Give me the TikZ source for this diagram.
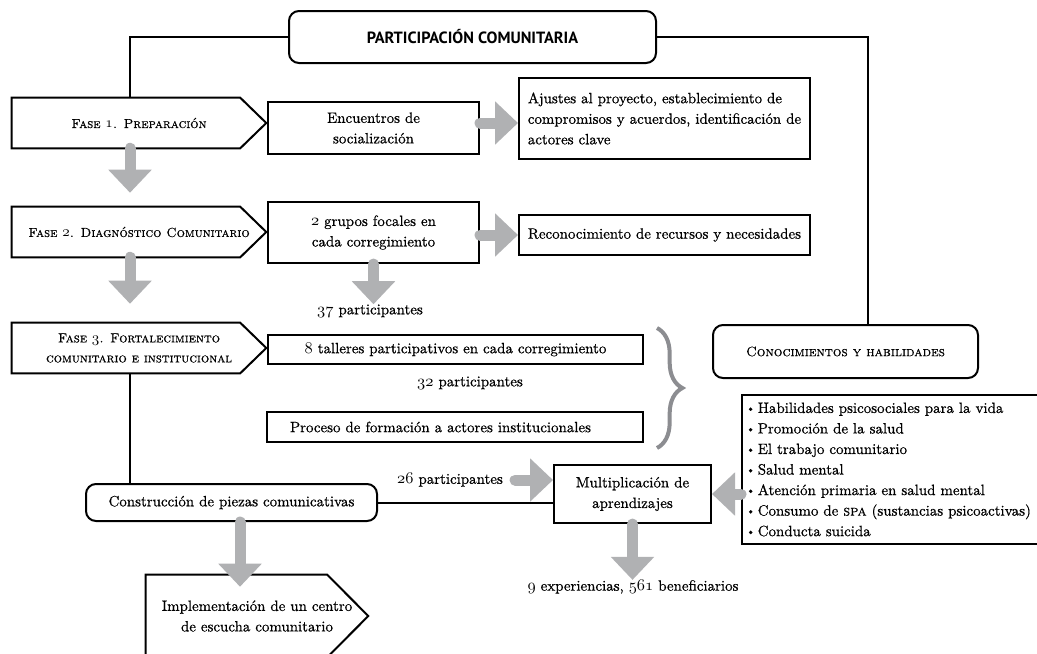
\documentclass[tikz,border=0pt]{standalone}
\usepackage{fontspec}
\setmainfont{lmroman10-regular.otf}[FakeBold=0.6, SmallCapsFont=lmromancaps10-regular.otf, SmallCapsFeatures={FakeBold=0.6}]
\newfontfamily\titlefont{PT Sans}
\usetikzlibrary{arrows.meta,decorations.pathreplacing,calc}
\definecolor{agray}{RGB}{176,177,179}
\definecolor{bgray}{RGB}{140,141,145}
\newcommand\osn[1]{\scalebox{1.12}{\fontencoding{OML}\fontfamily{cmm}\fontseries{m}\fontshape{it}\selectfont #1}}
\newcommand\bult{\raisebox{0.15ex}{\scalebox{0.8}{\textbullet}}\,}
\tikzset{
  txt/.style={font=\fontsize{11.2}{15.4}\selectfont, inner sep=0pt, align=center},
  box/.style={txt, draw, line width=1.5pt, rectangle},
  rbox/.style={box, rounded corners=7.5pt},
  fasebox/.style={txt, font=\fontsize{9.8}{15}\selectfont, minimum width=190.5pt, minimum height=37.5pt},
  conn/.style={line width=1.5pt},
  outline/.style={line width=1.5pt, line join=miter},
  garrow/.style={draw=agray, line width=8.25pt, line cap=round, -{Triangle[width=31.5pt, length=17.25pt]}},
}
\begin{document}
\begin{tikzpicture}[x=0.75pt, y=-0.75pt]
\useasboundingbox (0,0) rectangle (1037,653);
\fill[white] (0,0) rectangle (1037,653);
\coordinate (lx) at (130,0);
\coordinate (rx) at (868,0);
\coordinate (ix) at (240,0);

% title
\node[rbox, minimum width=275.25pt, minimum height=39pt, font=\titlefont\bfseries\fontsize{12.2}{14}\selectfont] (title) at (472.5,37) {PARTICIPACIÓN COMUNITARIA};

% phase shapes
\node[fasebox] (f1) at (139,123) {\textsc{Fase \osn{1}. Preparación}};
\node[fasebox] (f2) at (139,232) {\textsc{Fase \osn{2}. Diagnóstico Comunitario}};
\node[fasebox] (f3) at (139,348) {\textsc{Fase \osn{3}. Fortalecimiento}\\\textsc{comunitario e institucional}};
\foreach \n in {f1,f2,f3}{
  \draw[outline] (\n.north west) -- ([xshift=-19.5pt]\n.north east) -- (\n.east) -- ([xshift=-19.5pt]\n.south east) -- (\n.south west) -- cycle;
}

% boxes
\node[box, minimum width=158.25pt, minimum height=39pt] (enc) at (373.5,128) {Encuentros de\\socialización};
\node[box, minimum width=218.25pt, minimum height=60.75pt, align=left] (ajs) at (664.5,118.5) {Ajustes al proyecto, establecimiento de\\compromisos y acuerdos, identificación de\\actores clave};
\node[box, minimum width=158.25pt, minimum height=45.75pt] (grp) at (373.5,232.5) {\osn{2} grupos focales en\\cada corregimiento};
\node[box, minimum width=218.25pt, minimum height=30pt] (rec) at (664.5,235) {Reconocimiento de recursos y necesidades};
\node[txt] (p37) at (370,311) {\osn{37} participantes};
\node[box, minimum width=281.25pt, minimum height=21.75pt] (tal) at (455.5,349.5) {\osn{8} talleres participativos en cada corregimiento};
\node[txt] (p32) at (470,383) {\osn{32} participantes};
\node[box, text width=247.5pt, inner xsep=17.25pt, minimum height=22.5pt, align=left] (pro) at (455,427) {Proceso de formación a actores institucionales};
\node[rbox, minimum width=198.75pt, minimum height=39.75pt, font=\fontsize{10.2}{14}\selectfont] (con) at (845.5,351.5) {\textsc{Conocimientos y habilidades}};
\node[txt] (p26) at (450,480) {\osn{26} participantes};
\node[rbox, minimum width=218.25pt, minimum height=27.75pt] (constr) at (231.5,502.5) {Construcción de piezas comunicativas};
\node[box, minimum width=117.75pt, minimum height=43.5pt] (mul) at (632.5,494) {Multiplicación de\\aprendizajes};
\node[box, anchor=north west, text width=225pt, inner xsep=3pt, minimum height=111.75pt, align=left] (bul) at (741,394) {%
\bult Habilidades psicosociales para la vida\\
\bult Promoción de la salud\\
\bult El trabajo comunitario\\
\bult Salud mental\\
\bult Atención primaria en salud mental\\
\bult Consumo de \textsc{spa} (sustancias psicoactivas)\\
\bult Conducta suicida};
\node[txt] (exp) at (633,587) {\osn{9} experiencias, \osn{561} beneficiarios};
\node[txt, minimum width=166.5pt, minimum height=61.5pt] (impl) at (257,616) {Implementación de un centro\\de escucha comunitario};
\draw[outline] (impl.north west) -- ([xshift=-30.75pt]impl.north east) -- (impl.east) -- ([xshift=-30.75pt]impl.south east) -- (impl.south west) -- cycle;

% brace
\draw[bgray, line width=3pt, decorate, decoration={brace, amplitude=19pt}] (657,328) -- (657,448);

% black connectors
\draw[conn] (title.west) -| (f1.north -| lx);
\draw[conn] (title.east) -| (con.north -| rx);
\draw[conn] (f3.south -| lx) -- (constr.north -| lx);
\draw[conn] (constr.east) -- (constr.east -| mul.west);

% gray arrows
\draw[garrow] ([yshift=3.75pt]enc.east) -- ([yshift=3.75pt]enc.east -| ajs.west);
\draw[garrow] (grp.east |- rec.west) -- (rec.west);
\draw[garrow] (grp.south) -- (grp.south |- p37.north);
\draw[garrow] (f1.south -| lx) -- ([yshift=10.5pt]f2.north -| lx);
\draw[garrow] (f2.south -| lx) -- ([yshift=14.25pt]f3.north -| lx);
\draw[garrow] ([xshift=9pt]p26.east) -- (p26.east -| mul.west);
\draw[garrow] (mul.east -| bul.west) -- (mul.east);
\draw[garrow] (mul.south) -- (mul.south |- exp.north);
\draw[garrow] (constr.south -| ix) -- ([yshift=-9pt]impl.north -| ix);
\end{tikzpicture}
\end{document}
